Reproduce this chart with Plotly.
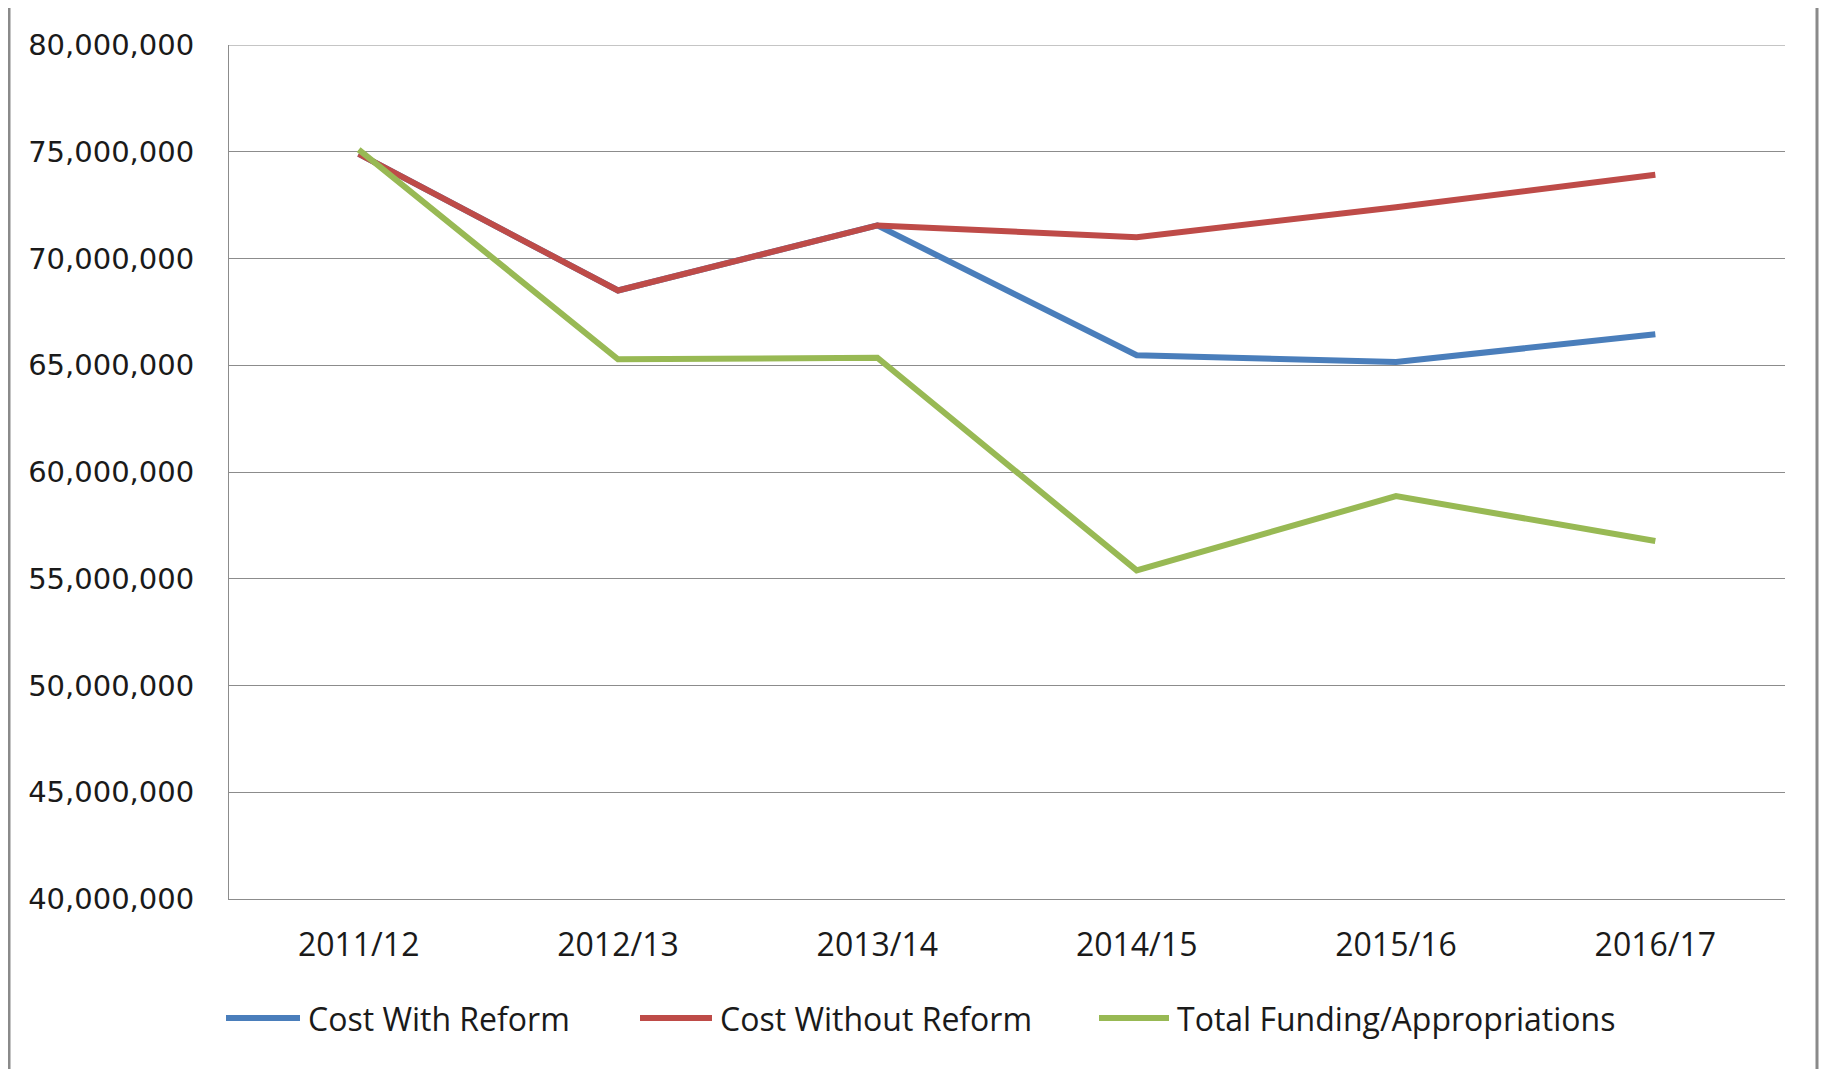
import plotly.graph_objects as go

# data
years = ["2011/12", "2012/13", "2013/14", "2014/15", "2015/16", "2016/17"]
cost_with_reform = [74900000, 68500000, 71550000, 65470000, 65150000, 66450000]
cost_without_reform = [74900000, 68500000, 71550000, 71000000, 72400000, 73920000]
total_funding = [75100000, 65280000, 65350000, 55390000, 58870000, 56770000]

series_names = ["Cost With Reform", "Cost Without Reform", "Total Funding/Appropriations"]
series_colors = ["#4A7EBB", "#BE4B48", "#98B954"]

# page body has an 8px margin, so the figure starts 8px in from the top-left
OFF = 8
W, H = 1829 - OFF, 1069 - OFF
L, R, T, B = 229 - OFF, 44, 45 - OFF, 170
plot_w = W - L - R
plot_h = H - T - B


def px_x(px):
    return (px - OFF - L) / plot_w


def px_y(py):
    return (H - B - (py - OFF)) / plot_h


fig = go.Figure()
# blue first so red sits on top of it where they share values
for name, vals, col in zip(series_names, [cost_with_reform, cost_without_reform, total_funding], series_colors):
    fig.add_trace(go.Scatter(x=years, y=vals, name=name, mode="lines",
                             line=dict(color=col, width=6), showlegend=False))

# top gridline at the range edge
fig.add_shape(type="line", xref="paper", yref="y", x0=0, x1=1,
              y0=80000000, y1=80000000, line=dict(color="#8c8c8c", width=1), layer="below")

# legend drawn by hand (long line samples like the original)
legend_items = [(226, 300, 306), (640, 712, 718), (1099, 1169, 1175)]
legend_y = px_y(1018)
for (x0, x1, tx), name, col in zip(legend_items, series_names, series_colors):
    fig.add_shape(type="line", xref="paper", yref="paper",
                  x0=px_x(x0), x1=px_x(x1), y0=legend_y, y1=legend_y,
                  line=dict(color=col, width=6))
    fig.add_annotation(x=px_x(tx), y=legend_y, xref="paper", yref="paper",
                       text=name, showarrow=False, xanchor="left", yanchor="middle",
                       font=dict(family="Open Sans", size=32, color="#1a1a1a"))

# outer frame edges
for px in (9, 1817):
    fig.add_shape(type="line", xref="paper", yref="paper",
                  x0=px_x(px), x1=px_x(px), y0=px_y(OFF), y1=px_y(1069),
                  line=dict(color="#8a8a8a", width=3))

fig.update_layout(
    width=W, height=H,
    margin=dict(l=L, r=R, t=T, b=B),
    paper_bgcolor="white", plot_bgcolor="white",
    xaxis=dict(
        type="category", range=[-0.5, 5.5],
        showline=True, linecolor="#8c8c8c", linewidth=1,
        showgrid=False, ticks="",
        tickfont=dict(family="Open Sans", size=32, color="#1a1a1a"),
        ticklabelstandoff=18,
    ),
    yaxis=dict(
        range=[40000000, 80000000], dtick=5000000, tickformat=",",
        showline=True, linecolor="#8c8c8c", linewidth=1,
        showgrid=True, gridcolor="#8c8c8c", gridwidth=1,
        zeroline=False, ticks="",
        tickfont=dict(family="DejaVu Sans", size=29, color="#1a1a1a"),
        ticklabelstandoff=28,
    ),
)

fig.write_html("out.html")
